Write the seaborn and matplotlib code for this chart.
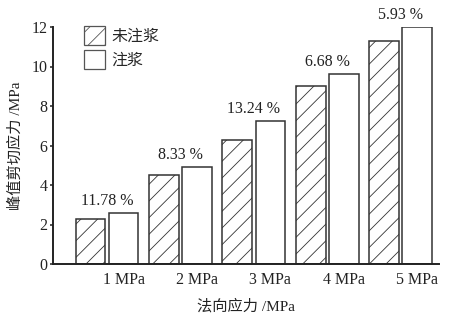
import matplotlib
matplotlib.use("Agg")
import matplotlib.pyplot as plt
import seaborn as sns
import pandas as pd
import numpy as np

categories = ["1 MPa", "2 MPa", "3 MPa", "4 MPa", "5 MPa"]
series_names = ["未注浆", "注浆"]
ungrouted = [2.27, 4.52, 6.28, 9.01, 11.31]
grouted = [2.56, 4.90, 7.25, 9.62, 12.0]
increase_labels = ["11.78 %", "8.33 %", "13.24 %", "6.68 %", "5.93 %"]

sns.set_theme(style="ticks")
plt.rcParams['font.family'] = ['Liberation Serif', 'Noto Sans CJK SC']
plt.rcParams['hatch.linewidth'] = 0.6
plt.rcParams['hatch.color'] = '#555555'

df = pd.DataFrame({
    "cat": categories * 2,
    "series": [series_names[0]] * len(categories) + [series_names[1]] * len(categories),
    "val": ungrouted + grouted,
})

fig = plt.figure(figsize=(4.65, 3.15), dpi=100)
ax = fig.add_axes([53/465, 1 - 264/315, (439-53)/465, (264-27)/315])

sns.barplot(data=df, x="cat", y="val", hue="series", order=categories,
            hue_order=series_names, palette=["white", "white"],
            width=0.9, gap=0.1, edgecolor="#333333", linewidth=1.1,
            ax=ax, legend=True)

for bar in ax.containers[0]:
    bar.set_hatch("//")
for bar in ax.containers[1]:
    bar.set_hatch("")

for i, (lab, v) in enumerate(zip(increase_labels, grouted)):
    ax.annotate(lab, xy=(i, v), xytext=(0, 3), textcoords="offset points",
                ha="center", va="bottom", fontsize=11.5, color="#222222")

ax.set_ylim(0, 12)
ax.set_xlim(-0.735, 4.52)
ax.set_yticks([0, 2, 4, 6, 8, 10, 12])
ax.set_xticks(np.arange(len(categories)) + 0.225)
ax.set_xticklabels(categories)
ax.tick_params(axis="x", length=0, labelsize=11.5, pad=6, colors="#222222")
ax.tick_params(axis="y", length=2.5, width=1.1, pad=1.5, labelsize=11.5,
               direction="out", colors="#222222")
for s in ["top", "right"]:
    ax.spines[s].set_visible(False)
for s in ["left", "bottom"]:
    ax.spines[s].set_linewidth(1.4)
    ax.spines[s].set_color("#222222")

ax.set_xlabel("法向应力 /MPa", fontsize=11, labelpad=8, color="#222222")
ax.set_ylabel("峰值剪切应力 /MPa", fontsize=11, labelpad=6, color="#222222")

leg = ax.legend(loc="upper left", bbox_to_anchor=(0.055, 1.045), frameon=False,
                fontsize=11.5, handlelength=1.3, handleheight=1.45,
                handletextpad=0.45, labelspacing=0.3, borderaxespad=0.2,
                title=None)
for h in leg.legend_handles:
    h.set_edgecolor("#555555")
    h.set_linewidth(0.9)
leg.legend_handles[0].set_hatch("//")
leg.legend_handles[1].set_hatch("")

fig.savefig("out.png", dpi=100)
